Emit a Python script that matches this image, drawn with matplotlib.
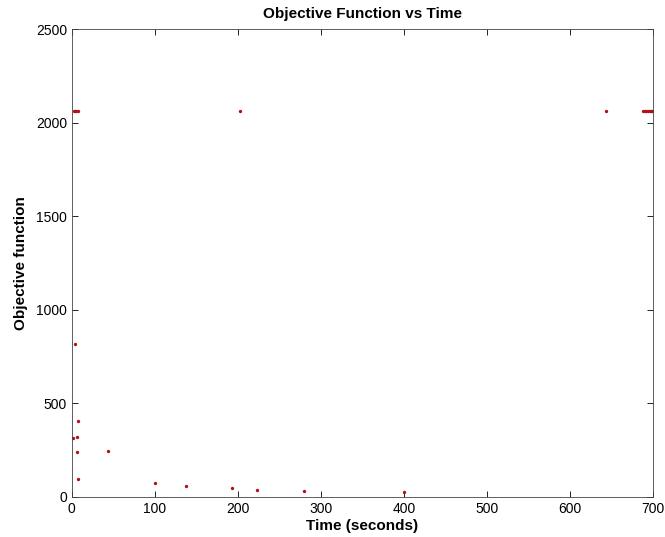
import matplotlib
matplotlib.use('Agg')
import matplotlib.pyplot as plt

plt.rcParams['font.family'] = ['Liberation Sans', 'DejaVu Sans']

# tiempos (s) y valor de la funcion objetivo
tiempo = [2.5, 4, 5.5, 7, 202, 643,
          688, 690, 692, 694, 696, 698, 699,
          4, 7, 6, 1, 6, 44, 8,
          100, 138, 193, 223, 280, 400]
objetivo = [2065, 2065, 2065, 2065, 2065, 2065,
            2065, 2065, 2065, 2065, 2065, 2065, 2065,
            817, 408, 319, 313, 242, 247, 98,
            75, 60, 48, 39, 30, 25]

fig = plt.figure(figsize=(6.65, 5.37), dpi=100)
ax = fig.add_axes([0.108, 0.0745, 0.874, 0.871])
ax.plot(tiempo, objetivo, '.', color='#b3101a', markersize=2.8)

ax.set_xlim(0, 700)
ax.set_ylim(0, 2500)
ax.set_xticks(range(0, 701, 100))
ax.set_yticks(range(0, 2501, 500))
ax.tick_params(direction='in', top=True, right=True, labelsize=10, length=4, width=0.6)
for s in ax.spines.values():
    s.set_linewidth(0.6)
    s.set_color('#444444')

ax.set_title('Objective Function vs Time', fontsize=11, fontweight='bold', pad=8)
ax.set_xlabel('Time (seconds)', fontsize=11, fontweight='bold', labelpad=2)
ax.set_ylabel('Objective function', fontsize=11, fontweight='bold', labelpad=6)

fig.savefig('out.png', dpi=100)
